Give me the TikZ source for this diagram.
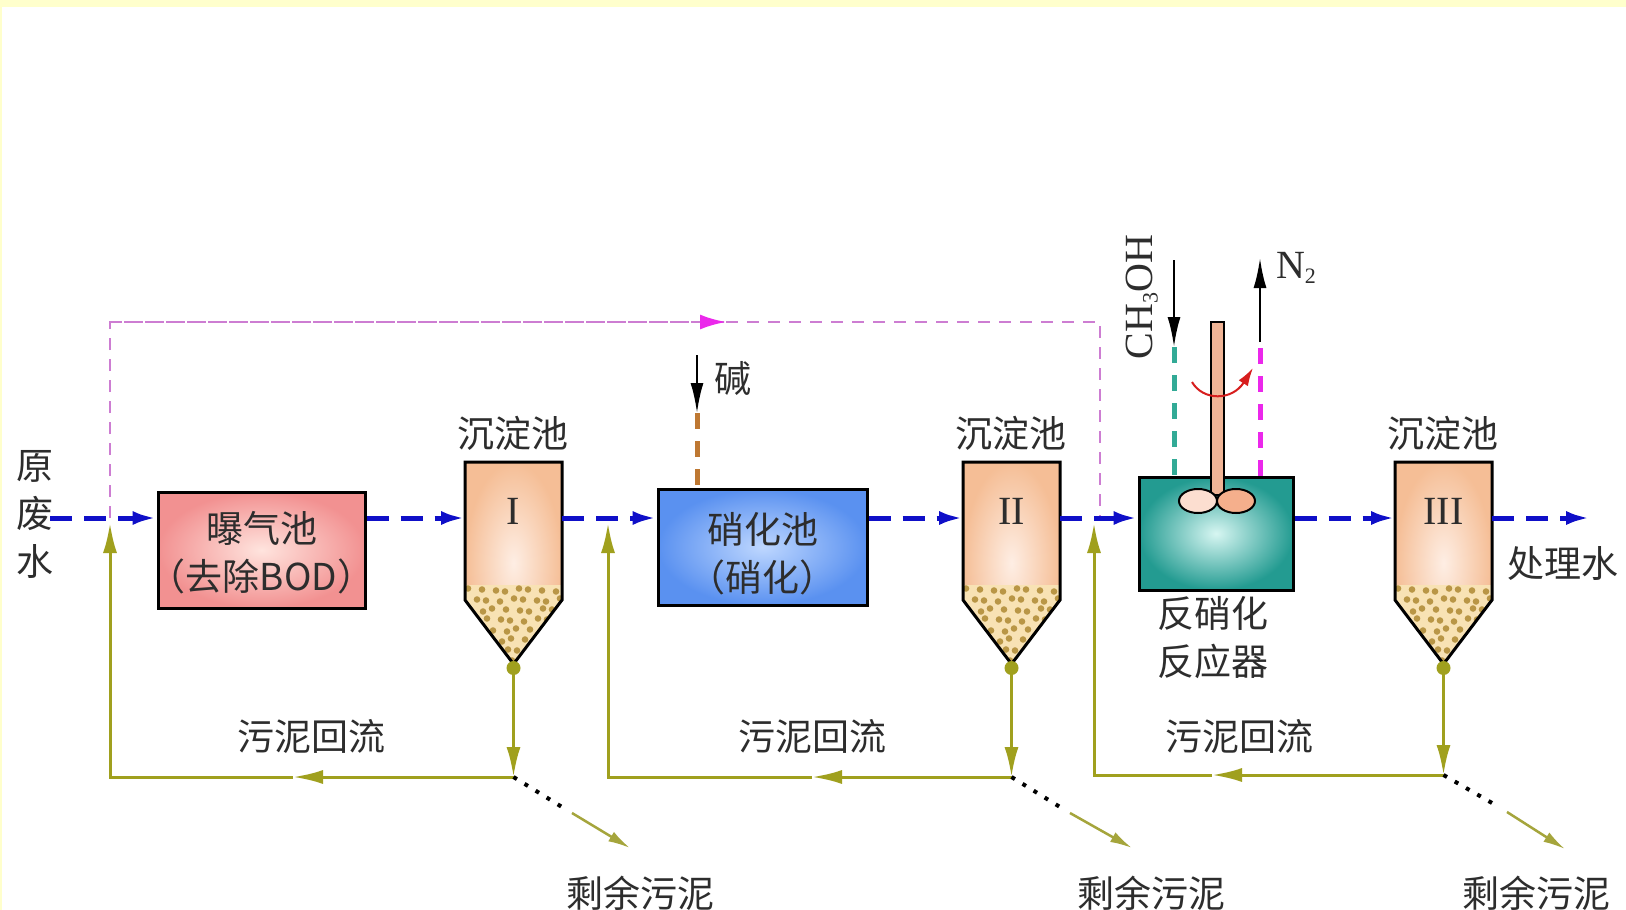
\documentclass[tikz,border=0pt]{standalone}
\usepackage{fontspec}
\setmainfont{Liberation Serif}
\newfontfamily\cjk{Noto Sans CJK SC}
\usetikzlibrary{arrows.meta}

\definecolor{bgyellow}{RGB}{255,255,204}
\definecolor{flowblue}{RGB}{15,15,200}
\definecolor{retolive}{RGB}{160,160,30}
\definecolor{wasteolive}{RGB}{165,165,60}
\definecolor{magline}{RGB}{205,125,210}
\definecolor{magbright}{RGB}{235,40,235}
\definecolor{tealdash}{RGB}{50,170,150}
\definecolor{browndash}{RGB}{190,120,50}
\definecolor{redarr}{RGB}{215,30,30}
\definecolor{textgray}{RGB}{45,45,45}
\definecolor{aerin}{RGB}{255,228,222}
\definecolor{aerout}{RGB}{242,145,145}
\definecolor{nitin}{RGB}{190,215,255}
\definecolor{nitout}{RGB}{90,145,240}
\definecolor{reain}{RGB}{215,246,242}
\definecolor{reaout}{RGB}{35,155,145}
\definecolor{settlerin}{RGB}{254,238,228}
\definecolor{settlerout}{RGB}{245,190,150}
\definecolor{sludge}{RGB}{248,226,180}
\definecolor{sludgedot}{RGB}{185,150,70}
\definecolor{shaftcol}{RGB}{240,180,150}
\definecolor{impA}{RGB}{252,222,208}
\definecolor{impB}{RGB}{245,175,140}

\tikzset{
  flow/.style={draw=flowblue, line width=5pt, dash pattern=on 22pt off 12pt,
    -{Latex[length=24pt,width=14pt]}},
  bypass/.style={draw=magline, line width=2.5pt, dash pattern=on 12pt off 9pt},
  ret/.style={draw=retolive, line width=3pt},
  retarrow/.style={ret, -{Latex[length=30pt,width=14pt]}},
  wastedots/.style={draw=black, line width=4pt, dash pattern=on 4pt off 9pt},
  wastearrow/.style={draw=wasteolive, line width=2.5pt, -{Latex[length=22pt,width=11pt]}},
  feedarrow/.style={draw=black, line width=2.5pt, -{Latex[length=30pt,width=13pt]}},
  feeddash/.style={line width=5pt, dash pattern=on 16pt off 12pt},
  unitbox/.style={draw=black, line width=3pt, inner sep=0pt},
  cjktext/.style={font=\cjk\fontsize{37}{48}\selectfont, text=textgray, inner sep=0pt, align=center},
  numeral/.style={font=\fontsize{40}{40}\selectfont, text=textgray, inner sep=0pt},
  chemtext/.style={font=\fontsize{40}{40}\selectfont, text=textgray, inner sep=0pt},
}

% small lowered index for chemical formulas
\newcommand{\chemidx}[1]{\raisebox{-5pt}{\fontsize{22}{22}\selectfont #1}}

% settling tank: #1 left edge, #2 name prefix, #3 numeral
\newcommand{\drawsettler}[3]{%
  \path (#1,462) coordinate (#2nw)
        ({#1+97},462) coordinate (#2ne)
        ({#1+97},600) coordinate (#2se)
        ({#1+48.5},664) coordinate (#2tip)
        (#1,600) coordinate (#2sw)
        (#1,518) coordinate (#2w)
        ({#1+97},518) coordinate (#2e)
        ({#1+48.5},668) coordinate (#2dot)
        ({#1+48.5},511) coordinate (#2c);
  \shade[inner color=settlerin, outer color=settlerout]
    (#2nw) -- (#2ne) -- (#2se) -- (#2tip) -- (#2sw) -- cycle;
  \begin{scope}
    \clip (#1,585) -- ({#1+97},585) -- (#2se) -- (#2tip) -- (#2sw) -- cycle;
    \fill[sludge] (#1,585) rectangle ({#1+97},670);
    \foreach \iy in {0,...,7} {
      \foreach \ix in {0,...,8} {
        \fill[sludgedot] ({#1+5+\ix*12+mod(\iy,2)*6+mod(\ix*7+\iy*3,5)-2},
                          {590+\iy*10+mod(\ix*5+\iy,4)-1.5}) circle (3.3pt);
      }
    }
  \end{scope}
  \draw[line width=3pt] (#2nw) -- (#2ne) -- (#2se) -- (#2tip) -- (#2sw) -- cycle;
  \node[numeral] (#2num) at (#2c) {#3};
  \node[cjktext] (#2lbl) at ({#1+48},433) {沉淀池};
  \fill[retolive] (#2dot) circle (7pt);
}

\begin{document}
\begin{tikzpicture}[x=1pt,y=-1pt]
  % page background and frame
  \fill[bgyellow] (0,0) rectangle (1626,910);
  \fill[white] (2,7) rectangle (1626,910);
  \useasboundingbox (0,0) rectangle (1626,910);

  % bypass line across the top (drawn first, below everything)
  \coordinate (byA) at (110,518);
  \coordinate (byB) at (110,322);
  \coordinate (byM) at (726,322);
  \coordinate (byC) at (1100,322);
  \coordinate (byD) at (1100,518);
  \draw[bypass] (byA) -- (byB) -- (byM);
  \draw[bypass] (byM) -- (byC) -- (byD);
  \draw[bypass, -{Latex[length=26pt,width=15pt,color=magbright]}] (byB) -- (byM);

  % treatment units
  \node[unitbox, inner color=aerin, outer color=aerout,
        minimum width=207pt, minimum height=116pt] (aer) at (261.5,550) {};
  \node[cjktext] (aertxt) at (261.5,553) {曝气池\\（去除BOD）};

  \node[unitbox, inner color=nitin, outer color=nitout,
        minimum width=209pt, minimum height=116pt] (nit) at (762.5,547) {};
  \node[cjktext] (nittxt) at (762.5,554) {硝化池\\（硝化）};

  \node[unitbox, inner color=reain, outer color=reaout,
        minimum width=154pt, minimum height=113pt] (rea) at (1216,533.5) {};
  \node[cjktext] (reatxt) at (1213,638) {反硝化\\反应器};

  \drawsettler{465}{sa}{I}
  \drawsettler{963}{sb}{II}
  \drawsettler{1395}{sc}{III}

  % mixer of the denitrification reactor
  \node[draw=black, fill=shaftcol, line width=2pt, minimum width=13pt,
        minimum height=173pt, inner sep=0pt] (shaft) at (1217.5,408.5) {};
  \filldraw[fill=impA, draw=black, line width=2pt] (1198,501) ellipse (19pt and 12pt);
  \filldraw[fill=impB, draw=black, line width=2pt] (1236,501) ellipse (19pt and 12pt);
  \coordinate (spinA) at (1192,382);
  \coordinate (spinB) at (1253,368);
  \draw[redarr, line width=2pt, -{Latex[length=18pt,width=11pt]}]
    (spinA) .. controls (1203,401) and (1232,401) .. (spinB);

  % main water line
  \coordinate (src) at (50,518);
  \coordinate (outp) at (1590,518);
  \draw[flow] (src) -- (src -| aer.west);
  \draw[flow] (src -| aer.east) -- (saw);
  \draw[flow] (sae) -- (src -| nit.west);
  \draw[flow] (src -| nit.east) -- (sbw);
  \draw[flow] (sbe) -- (src -| rea.west);
  \draw[flow] (src -| rea.east) -- (scw);
  \draw[flow] (sce) -- (outp);

  % dosing of alkali
  \coordinate (alkTop) at (697,355);
  \coordinate (alkIn) at (697,413);
  \draw[browndash, feeddash] (alkIn) -- (alkIn |- nit.north);
  \draw[feedarrow] (alkTop) -- (alkIn);
  \node[cjktext] (alk) at (733,378) {碱};

  % methanol dosing
  \coordinate (meoTop) at (1174,260);
  \coordinate (meoIn) at (1174,347);
  \draw[tealdash, feeddash] (meoIn) -- (meoIn |- rea.north);
  \draw[feedarrow] (meoTop) -- (meoIn);
  \node[chemtext, rotate=90] (meo) at (1142,297) {CH\chemidx{3}OH};

  % nitrogen off-gas
  \coordinate (n2Out) at (1260,342);
  \coordinate (n2Top) at (1260,258);
  \draw[magbright, feeddash] (n2Out |- rea.north) -- (1260,347);
  \draw[feedarrow] (n2Out) -- (n2Top);
  \node[chemtext] (n2) at (1296,268) {N\chemidx{2}};

  % sludge returns
  \coordinate (saj) at (513.5,777);
  \coordinate (r1m) at (293,777);
  \coordinate (r1c) at (110,777);
  \coordinate (r1t) at (110,523);
  \draw[retarrow] (sadot) -- (saj);
  \draw[retarrow] (saj) -- (r1m);
  \draw[retarrow] (r1m) -- (r1c) -- (r1t);

  \coordinate (sbj) at (1011.5,777);
  \coordinate (r2m) at (812,777);
  \coordinate (r2c) at (608,777);
  \coordinate (r2t) at (608,523);
  \draw[retarrow] (sbdot) -- (sbj);
  \draw[retarrow] (sbj) -- (r2m);
  \draw[retarrow] (r2m) -- (r2c) -- (r2t);

  \coordinate (scj) at (1443.5,775);
  \coordinate (r3m) at (1212,775);
  \coordinate (r3c) at (1094,775);
  \coordinate (r3t) at (1094,523);
  \draw[retarrow] (scdot) -- (scj);
  \draw[retarrow] (scj) -- (r3m);
  \draw[retarrow] (r3m) -- (r3c) -- (r3t);

  \node[cjktext] (ret1) at (311,736) {污泥回流};
  \node[cjktext] (ret2) at (812,736) {污泥回流};
  \node[cjktext] (ret3) at (1239,736) {污泥回流};

  % excess sludge
  \coordinate (w1a) at (562,807);
  \coordinate (w1b) at (572,813);
  \coordinate (w1e) at (630,848);
  \draw[wastedots] (saj) -- (w1a);
  \draw[wastearrow] (w1b) -- (w1e);
  \node[cjktext] (ex1) at (640,893) {剩余污泥};

  \coordinate (w2a) at (1060,807);
  \coordinate (w2b) at (1070,813);
  \coordinate (w2e) at (1132,848);
  \draw[wastedots] (sbj) -- (w2a);
  \draw[wastearrow] (w2b) -- (w2e);
  \node[cjktext] (ex2) at (1151,893) {剩余污泥};

  \coordinate (w3a) at (1499,807);
  \coordinate (w3b) at (1507,812);
  \coordinate (w3e) at (1565,849);
  \draw[wastedots] (scj) -- (w3a);
  \draw[wastearrow] (w3b) -- (w3e);
  \node[cjktext] (ex3) at (1536,893) {剩余污泥};

  % inlet and outlet labels
  \node[cjktext] (inlet) at (35,514) {原\\废\\水};
  \node[cjktext] (outlet) at (1563,563) {处理水};
\end{tikzpicture}
\end{document}
